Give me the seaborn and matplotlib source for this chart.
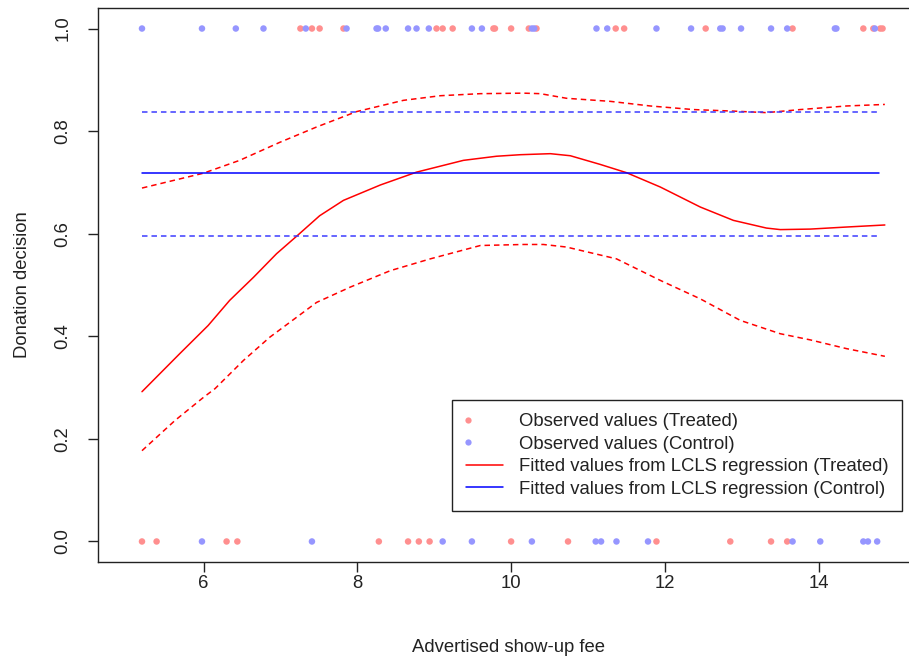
import numpy as np
import pandas as pd
import matplotlib
matplotlib.use("Agg")
import matplotlib.pyplot as plt
from matplotlib.lines import Line2D
from matplotlib.legend_handler import HandlerBase
import seaborn as sns

# Observed donation decisions (1 = donated, 0 = did not) by advertised fee
treated_fee_yes = [7.26, 7.41, 7.51, 7.82, 9.03, 9.11, 9.24, 9.77, 9.79, 10.00,
                   10.23, 10.33, 11.36, 11.47, 12.53, 13.66, 14.58, 14.71, 14.80, 14.83]
treated_fee_no = [5.20, 5.39, 6.30, 6.44, 8.28, 8.66, 8.80, 8.94, 10.00, 10.74,
                  11.89, 12.85, 13.38, 13.59]
control_fee_yes = [5.20, 5.98, 6.42, 6.78, 7.33, 7.86, 8.25, 8.27, 8.37, 8.66,
                   8.77, 8.93, 9.49, 9.62, 10.27, 10.30, 11.11, 11.25, 11.89, 12.34,
                   12.72, 12.75, 12.99, 13.38, 13.59, 14.21, 14.23, 14.73]
control_fee_no = [5.98, 7.41, 9.11, 9.49, 10.27, 11.10, 11.17, 11.37, 11.78,
                  13.66, 14.02, 14.58, 14.64, 14.76]

# LCLS fit for the treated group with its confidence band
fit_x = [5.20, 5.69, 6.06, 6.34, 6.65, 6.95, 7.21, 7.51, 7.82, 8.30, 8.77, 9.38,
         9.81, 10.12, 10.51, 10.77, 11.16, 11.50, 11.94, 12.46, 12.89, 13.32,
         13.50, 13.89, 14.36, 14.86]
fit_y = [0.292, 0.366, 0.421, 0.470, 0.515, 0.561, 0.595, 0.635, 0.665, 0.695,
         0.720, 0.743, 0.751, 0.754, 0.756, 0.752, 0.735, 0.719, 0.691, 0.652,
         0.626, 0.611, 0.608, 0.609, 0.613, 0.617]
upper_x = [5.20, 6.00, 6.47, 6.99, 7.47, 7.99, 8.60, 9.08, 9.60, 10.16, 10.38,
           10.72, 11.29, 11.81, 12.37, 12.89, 13.32, 13.76, 14.36, 14.86]
upper_y = [0.689, 0.718, 0.743, 0.778, 0.808, 0.838, 0.860, 0.869, 0.873, 0.874,
           0.873, 0.864, 0.858, 0.849, 0.842, 0.839, 0.836, 0.842, 0.849, 0.852]
lower_x = [5.20, 5.63, 6.00, 6.15, 6.52, 6.86, 7.21, 7.47, 7.91, 8.43, 8.95, 9.60,
           10.16, 10.42, 10.72, 11.37, 11.94, 12.46, 12.98, 13.50, 13.89, 14.36,
           14.86]
lower_y = [0.177, 0.236, 0.281, 0.298, 0.353, 0.398, 0.437, 0.466, 0.496, 0.528,
           0.551, 0.577, 0.579, 0.579, 0.574, 0.551, 0.509, 0.473, 0.431, 0.405,
           0.393, 0.376, 0.361]

# Control group: constant fit and confidence bounds
control_span = [5.20, 14.78]
control_fit = 0.719
control_lo = 0.595
control_hi = 0.838

x_ticks = [6, 8, 10, 12, 14]
y_ticks = [0.0, 0.2, 0.4, 0.6, 0.8, 1.0]
y_tick_labels = ["0.0", "0.2", "0.4", "0.6", "0.8", "1.0"]

sns.set_style("white")
plt.rcParams["font.family"] = ["Liberation Sans", "DejaVu Sans"]

RED_PT = "#ff8f8f"
BLUE_PT = "#9696ff"
INK = "#222222"
FS = 13.3


class LeftDotHandler(HandlerBase):
    """Legend entry that shows a single dot near the left of the handle box."""

    def create_artists(self, legend, orig_handle, xdescent, ydescent,
                       width, height, fontsize, trans):
        dot = Line2D([-xdescent + 2.0], [height / 2.0 - ydescent], ls="none",
                     marker="o", ms=orig_handle.get_markersize(),
                     mfc=orig_handle.get_markerfacecolor(), mec="none",
                     transform=trans)
        return [dot]


fig = plt.figure(figsize=(9.09, 6.58), dpi=100)
ax = fig.add_axes([98 / 909, 96 / 658, 822 / 909, 554 / 658])

obs = pd.concat([
    pd.DataFrame({"fee": treated_fee_yes, "don": 1, "grp": "T"}),
    pd.DataFrame({"fee": treated_fee_no, "don": 0, "grp": "T"}),
    pd.DataFrame({"fee": control_fee_yes, "don": 1, "grp": "C"}),
    pd.DataFrame({"fee": control_fee_no, "don": 0, "grp": "C"}),
])
sns.scatterplot(data=obs, x="fee", y="don", hue="grp",
                palette={"T": RED_PT, "C": BLUE_PT}, s=22, linewidth=0,
                ax=ax, legend=False, zorder=3)

dash = (3.6, 2.6)
sns.lineplot(x=fit_x, y=fit_y, color="red", lw=1.1, ax=ax, sort=False,
             estimator=None, zorder=4)
sns.lineplot(x=upper_x, y=upper_y, color="red", lw=1.1, ax=ax, sort=False,
             estimator=None, zorder=4).lines[-1].set_dashes(dash)
sns.lineplot(x=lower_x, y=lower_y, color="red", lw=1.1, ax=ax, sort=False,
             estimator=None, zorder=4).lines[-1].set_dashes(dash)

sns.lineplot(x=control_span, y=[control_fit] * 2, color="blue", lw=1.1, ax=ax,
             estimator=None, zorder=4)
sns.lineplot(x=control_span, y=[control_hi] * 2, color="#3c3cff", lw=1.1, ax=ax,
             estimator=None, zorder=4).lines[-1].set_dashes(dash)
sns.lineplot(x=control_span, y=[control_lo] * 2, color="#3c3cff", lw=1.1, ax=ax,
             estimator=None, zorder=4).lines[-1].set_dashes(dash)

ax.set_xlim(4.628, 15.317)
ax.set_ylim(-0.04, 1.04)
ax.set_xticks(x_ticks)
ax.set_xticklabels([str(t) for t in x_ticks], fontsize=FS)
ax.set_yticks(y_ticks)
ax.set_yticklabels(y_tick_labels, fontsize=FS, rotation=90, va="center")
ax.tick_params(direction="out", length=7, width=1, color=INK,
               bottom=True, left=True, labelcolor=INK)
ax.tick_params(axis="x", pad=2.5)
ax.tick_params(axis="y", pad=12)
for sp in ax.spines.values():
    sp.set_color(INK)
    sp.set_linewidth(1.0)

ax.set_xlabel("Advertised show-up fee", fontsize=FS, color=INK, labelpad=34)
ax.set_ylabel("Donation decision", fontsize=FS, color=INK, labelpad=17)

handles = [
    Line2D([], [], ls="none", marker="o", ms=4.5, mfc=RED_PT, mec="none"),
    Line2D([], [], ls="none", marker="o", ms=4.5, mfc=BLUE_PT, mec="none"),
    Line2D([], [], color="red", lw=1.1),
    Line2D([], [], color="blue", lw=1.1),
]
labels = [
    "Observed values (Treated)",
    "Observed values (Control)",
    "Fitted values from LCLS regression (Treated)",
    "Fitted values from LCLS regression (Control)",
]
leg = ax.legend(handles, labels, loc="upper left", bbox_to_anchor=(0.431, 0.2924),
                handler_map={handles[0]: LeftDotHandler(),
                             handles[1]: LeftDotHandler()},
                fontsize=FS, frameon=True, fancybox=False, edgecolor=INK,
                framealpha=1, handlelength=2.05, handletextpad=0.86,
                labelspacing=0.3, borderpad=0.72, borderaxespad=0)
leg.get_frame().set_linewidth(1.0)
for t in leg.get_texts():
    t.set_color(INK)

fig.savefig("out.png", dpi=100)
